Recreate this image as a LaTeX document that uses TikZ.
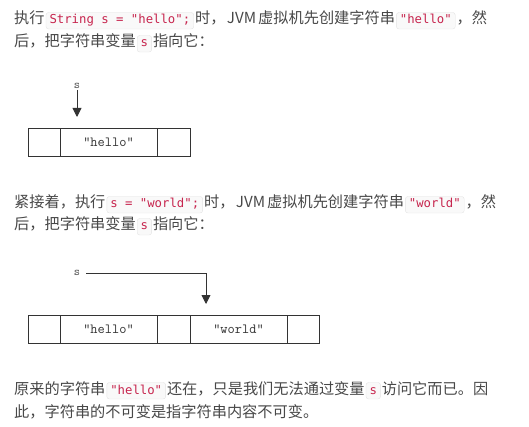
\documentclass[tikz,border=0pt]{standalone}
\usepackage{fontspec}
\usetikzlibrary{positioning,arrows.meta}
\newfontfamily\cjk{Noto Sans CJK SC}
\newfontfamily\codefont{DejaVu Sans Mono}
\definecolor{txtgray}{HTML}{484848}
\definecolor{codered}{HTML}{C7254E}
\definecolor{codebg}{HTML}{F9F9F9}
\definecolor{codeline}{HTML}{E3E3E3}
\definecolor{boxline}{HTML}{333333}
\newcommand{\jvm}{\hspace{1.5pt}JVM\hspace{2pt}}
\tikzset{
    txt/.style={inner sep=0pt, text=txtgray, font=\cjk\fontsize{15.2}{18}\selectfont},
    code/.style={fill=codebg, draw=codeline, rounded corners=2.5pt, inner xsep=3.5pt, inner ysep=2.5pt,
        text height=9pt, text depth=2.5pt, text=codered, font=\codefont\fontsize{12.3}{14}\selectfont},
    cell/.style={draw=boxline, line width=0.9pt, minimum height=28pt, inner sep=0pt, outer sep=0pt,
        text=boxline, font=\ttfamily\fontsize{14}{16}\selectfont},
    ptr/.style={inner xsep=6pt, inner ysep=1pt, text=txtgray, font=\ttfamily\fontsize{12}{13}\selectfont},
    ptrarrow/.style={draw=boxline, line width=0.9pt, -{Triangle[length=9pt,width=9pt]}}
}
\begin{document}
\begin{tikzpicture}[x=1pt, y=-1pt]
    \useasboundingbox (0,0) rectangle (529,427);

    % first paragraph
    \node[txt, anchor=base west] (p1a) at (14,24) {执行};
    \node[code, base right=1pt of p1a] (p1b) {String s = "hello";};
    \node[txt, base right=1pt of p1b] (p1c) {时，\jvm 虚拟机先创建字符串};
    \node[code, base right=1pt of p1c] (p1d) {"hello"};
    \node[txt, base right=1pt of p1d] (p1e) {，然};
    \node[txt, anchor=base west] (p2a) at (14,47) {后，把字符串变量};
    \node[code, base right=1pt of p2a] (p2b) {s};
    \node[txt, base right=1pt of p2b] (p2c) {指向它：};

    % first picture
    \node[cell, minimum width=32pt, anchor=north west] (a0) at (28,128) {};
    \node[cell, minimum width=97pt, right=0pt of a0] (a1) {"hello"};
    \node[cell, minimum width=33pt, right=0pt of a1] (a2) {};
    \node[ptr] (s1) at (77,86) {s};
    \coordinate (t1) at (77,117);
    \draw[ptrarrow] (s1.south) -- (t1);

    % second paragraph
    \node[txt, anchor=base west] (p3a) at (14,208) {紧接着，执行};
    \node[code, base right=1pt of p3a] (p3b) {s = "world";};
    \node[txt, base right=1pt of p3b] (p3c) {时，\jvm 虚拟机先创建字符串};
    \node[code, base right=1pt of p3c] (p3d) {"world"};
    \node[txt, base right=1pt of p3d] (p3e) {，然};
    \node[txt, anchor=base west] (p4a) at (14,230) {后，把字符串变量};
    \node[code, base right=1pt of p4a] (p4b) {s};
    \node[txt, base right=1pt of p4b] (p4c) {指向它：};

    % second picture
    \node[cell, minimum width=32pt, anchor=north west] (b0) at (28,315) {};
    \node[cell, minimum width=97pt, right=0pt of b0] (b1) {"hello"};
    \node[cell, minimum width=33pt, right=0pt of b1] (b2) {};
    \node[cell, minimum width=97pt, right=0pt of b2] (b3) {"world"};
    \node[cell, minimum width=32pt, right=0pt of b3] (b4) {};
    \node[ptr] (s2) at (77,273) {s};
    \coordinate (t2) at (206,304);
    \draw[ptrarrow] (s2.east) -| (t2);

    % last paragraph
    \node[txt, anchor=base west] (p5a) at (14,394) {原来的字符串};
    \node[code, base right=1pt of p5a] (p5b) {"hello"};
    \node[txt, base right=1pt of p5b] (p5c) {还在，只是我们无法通过变量};
    \node[code, base right=1pt of p5c] (p5d) {s};
    \node[txt, base right=1pt of p5d] (p5e) {访问它而已。因};
    \node[txt, anchor=base west] (p6a) at (14,417) {此，字符串的不可变是指字符串内容不可变。};
\end{tikzpicture}
\end{document}
